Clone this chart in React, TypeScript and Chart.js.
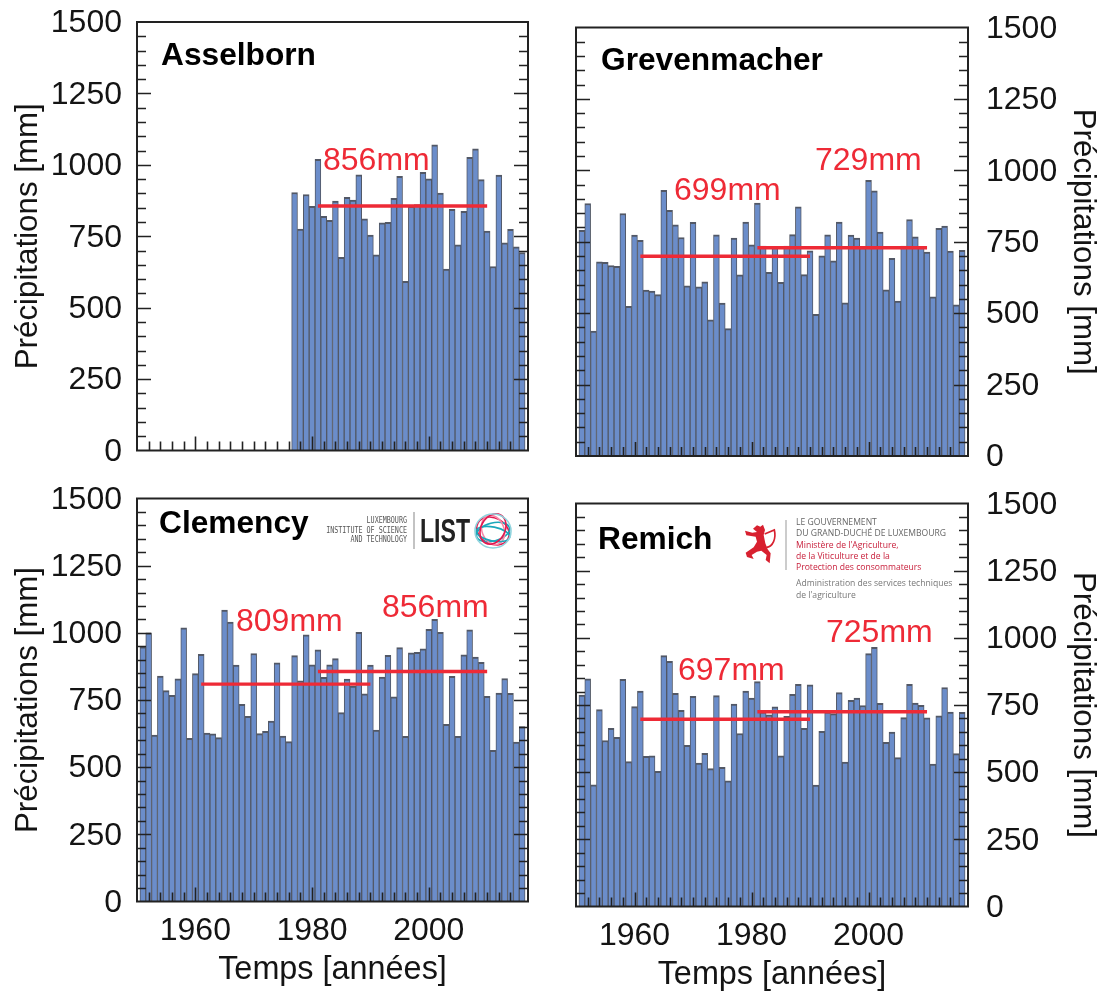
import React, { useEffect, useRef } from "react";
import { Chart, registerables } from "chart.js";

Chart.register(...registerables);

const FONT = "'Liberation Sans', Arial, sans-serif";
const BAR_FILL = "#6b8dca";
const BAR_EDGE = "#525866";
const RED = "#ee2a36";
const INK = "#141414";

const yearTicks = [1960, 1980, 2000];
const valueTicks = [0, 250, 500, 750, 1000, 1250, 1500];

const asselbornStart = 1977;
const asselbornValues = [903, 775, 896, 855, 1019, 820, 806, 873, 676, 886, 877, 965, 811, 754, 685, 797, 799, 883, 960, 592, 855, 861, 974, 951, 1070, 901, 635, 844, 720, 837, 1026, 1056, 948, 768, 644, 964, 727, 774, 713, 693];
const grevenmacherStart = 1951;
const grevenmacherValues = [790, 884, 437, 680, 678, 667, 664, 849, 524, 773, 755, 581, 577, 565, 930, 860, 809, 765, 596, 818, 592, 610, 477, 774, 535, 446, 763, 634, 819, 739, 885, 735, 643, 730, 608, 735, 775, 872, 635, 718, 496, 701, 774, 683, 819, 536, 773, 763, 730, 965, 928, 784, 582, 692, 542, 735, 828, 767, 734, 714, 557, 797, 805, 717, 529, 720];
const clemencyStart = 1951;
const clemencyValues = [948, 1000, 619, 839, 785, 767, 829, 1019, 607, 848, 920, 627, 624, 610, 1085, 1040, 880, 734, 689, 923, 625, 633, 672, 888, 616, 595, 915, 821, 993, 881, 937, 834, 881, 904, 703, 828, 802, 1002, 773, 880, 638, 835, 916, 762, 945, 615, 926, 927, 940, 1013, 1050, 1002, 659, 838, 615, 918, 1011, 910, 890, 764, 563, 776, 830, 775, 593, 651];
const remichStart = 1951;
const remichValues = [787, 847, 453, 733, 618, 663, 630, 846, 539, 744, 802, 559, 561, 503, 934, 913, 793, 730, 600, 782, 534, 570, 513, 785, 518, 468, 753, 644, 802, 776, 837, 725, 713, 743, 561, 708, 790, 827, 663, 825, 452, 652, 725, 718, 796, 538, 767, 776, 748, 941, 965, 756, 611, 649, 554, 703, 827, 757, 749, 702, 530, 710, 815, 724, 569, 723];

const asselbornMeans = [{ from: 1981, to: 2010, value: 856 }];
const grevenmacherMeans = [{ from: 1961, to: 1990, value: 699 }, { from: 1981, to: 2010, value: 729 }];
const clemencyMeans = [{ from: 1961, to: 1990, value: 809 }, { from: 1981, to: 2010, value: 856 }];
const remichMeans = [{ from: 1961, to: 1990, value: 697 }, { from: 1981, to: 2010, value: 725 }];

const panels = [
  { name: "Asselborn", start: asselbornStart, values: asselbornValues, means: asselbornMeans, box: [137, 528, 22, 450.5], side: "left", bottomAxis: false, nameAt: [161, 65], meanLabels: [[323, 170]], logo: "" },
  { name: "Grevenmacher", start: grevenmacherStart, values: grevenmacherValues, means: grevenmacherMeans, box: [576, 968, 27.5, 456], side: "right", bottomAxis: false, nameAt: [601, 70], meanLabels: [[674, 200], [815, 170]], logo: "" },
  { name: "Clemency", start: clemencyStart, values: clemencyValues, means: clemencyMeans, box: [137, 528, 498.5, 901.5], side: "left", bottomAxis: true, nameAt: [159, 533], meanLabels: [[236, 631], [382, 617]], logo: "list" },
  { name: "Remich", start: remichStart, values: remichValues, means: remichMeans, box: [576, 968, 503.5, 906.5], side: "right", bottomAxis: true, nameAt: [598, 549], meanLabels: [[678, 680], [826, 642]], logo: "gov" },
];

function drawListLogo(ctx: CanvasRenderingContext2D) {
  ctx.save();
  ctx.textAlign = "right";
  ctx.textBaseline = "middle";
  ctx.fillStyle = "#555";
  const small: [string, number][] = [["LUXEMBOURG", 521], ["INSTITUTE OF SCIENCE", 531], ["AND TECHNOLOGY", 540]];
  small.forEach(([s, yy]) => {
    ctx.save();
    ctx.translate(407, yy);
    ctx.scale(0.82, 1);
    ctx.font = "8.2px 'DejaVu Sans Mono', monospace";
    ctx.fillText(s, 0, 0);
    ctx.restore();
  });
  ctx.fillStyle = "#888";
  ctx.fillRect(413.5, 512, 1, 37);
  ctx.save();
  ctx.translate(420, 542);
  ctx.scale(0.68, 1);
  ctx.textAlign = "left";
  ctx.textBaseline = "alphabetic";
  ctx.fillStyle = "#222";
  ctx.font = `bold 34px ${FONT}`;
  ctx.fillText("LIST", 0, 0);
  ctx.restore();
  const rings: [number, number, number, number, string][] = [
    [17, 13, 0.5, 0, "#e2194f"],
    [17, 9, -0.25, 1, "#1aa7bb"],
    [15, 11, 1.2, -1, "#f58aa8"],
    [17, 7, 0.2, 3, "#1aa7bb"],
    [12, 16, 0.5, -2, "#e2194f"],
    [18, 17, 0, 0, "#8fd3dd"],
  ];
  ctx.lineWidth = 1.6;
  rings.forEach(([rx, ry, rot, dy, col]) => {
    ctx.beginPath();
    ctx.strokeStyle = col;
    ctx.ellipse(493, 531 + dy, rx, ry, rot, 0, Math.PI * 2);
    ctx.stroke();
  });
  ctx.restore();
}

function drawGovLogo(ctx: CanvasRenderingContext2D) {
  ctx.save();
  ctx.translate(733, 510);
  ctx.scale(1 / 3, 1 / 3);
  const pts = [[72, 46], [82, 50], [90, 44], [96, 60], [92, 75], [97, 100], [104, 118], [113, 130], [110, 160], [98, 150], [101, 135], [85, 122], [72, 125], [56, 135], [62, 147], [42, 141], [38, 128], [62, 112], [72, 95], [68, 80], [40, 76], [36, 62], [58, 68], [72, 66], [60, 56]];
  ctx.fillStyle = "#d8202f";
  ctx.beginPath();
  pts.forEach(([x, y], i) => (i ? ctx.lineTo(x, y) : ctx.moveTo(x, y)));
  ctx.closePath();
  ctx.fill();
  ctx.strokeStyle = "#d8202f";
  ctx.lineWidth = 5;
  ctx.beginPath();
  ctx.moveTo(95, 72);
  ctx.lineTo(124, 60);
  ctx.bezierCurveTo(130, 85, 120, 110, 100, 112);
  ctx.stroke();
  ctx.restore();
  ctx.save();
  ctx.fillStyle = "#999";
  ctx.fillRect(785.5, 520, 1, 50);
  ctx.textAlign = "left";
  ctx.textBaseline = "middle";
  ctx.font = "8.6px 'Open Sans', sans-serif";
  ctx.fillStyle = "#666";
  ctx.fillText("LE GOUVERNEMENT", 796, 522.5);
  ctx.fillText("DU GRAND-DUCHÉ DE LUXEMBOURG", 796, 534);
  ctx.fillStyle = "#c8203c";
  ctx.fillText("Ministère de l'Agriculture,", 796, 545.5);
  ctx.fillText("de la Viticulture et de la", 796, 557);
  ctx.fillText("Protection des consommateurs", 796, 568);
  ctx.fillStyle = "#777";
  ctx.fillText("Administration des services techniques", 796, 584);
  ctx.fillText("de l'agriculture", 796, 595.5);
  ctx.restore();
}

const framePlugin = {
  id: "frame",
  afterDatasetsDraw(chart: any) {
    const { ctx, chartArea: a, scales } = chart;
    const { x, y } = scales;
    ctx.save();
    ctx.strokeStyle = "#222";
    ctx.lineWidth = 1.6;
    y.ticks.forEach((t: any) => {
      if (t.value === 0 || t.value === 1500) return;
      const len = t.value % 250 === 0 ? 14 : 9;
      const p = Math.round(y.getPixelForValue(t.value)) + 0.5;
      ctx.beginPath();
      ctx.moveTo(a.left, p);
      ctx.lineTo(a.left + len, p);
      ctx.moveTo(a.right, p);
      ctx.lineTo(a.right - len, p);
      ctx.stroke();
    });
    x.ticks.forEach((t: any) => {
      if (t.value % 2 !== 0 || t.value === 1950) return;
      const len = t.value % 20 === 0 ? 14 : 9;
      const p = Math.round(x.getPixelForValue(t.value)) + 0.5;
      ctx.beginPath();
      ctx.moveTo(p, a.bottom);
      ctx.lineTo(p, a.bottom - len);
      ctx.stroke();
    });
    ctx.lineWidth = 2;
    ctx.strokeRect(a.left, a.top, a.right - a.left, a.bottom - a.top);
    ctx.restore();
  },
  afterDraw(chart: any) {
    const opts = chart.options.plugins.frame;
    const { ctx } = chart;
    ctx.save();
    ctx.textAlign = "left";
    ctx.textBaseline = "alphabetic";
    ctx.fillStyle = "#000";
    ctx.font = `bold 31.7px ${FONT}`;
    ctx.fillText(opts.name, opts.nameAt[0], opts.nameAt[1]);
    ctx.fillStyle = RED;
    ctx.font = `32px ${FONT}`;
    opts.means.forEach((m: any, i: number) => {
      ctx.fillText(`${m.value}mm`, opts.meanLabels[i][0], opts.meanLabels[i][1]);
    });
    ctx.restore();
    if (opts.logo === "list") drawListLogo(ctx);
    if (opts.logo === "gov") drawGovLogo(ctx);
  },
};

function makeChart(canvas: HTMLCanvasElement, p: any) {
  const [left, right, top, bottom] = p.box;
  const W = 1099;
  const H = 994;
  const isLeft = p.side === "left";
  const xHeight = 88;
  const yWidth = isLeft ? left : W - right;
  return new Chart(canvas, {
    type: "bar",
    data: {
      datasets: [
        {
          type: "bar",
          order: 2,
          data: p.values.map((v: number, i: number) => ({ x: p.start + i, y: v })),
          backgroundColor: BAR_FILL,
          borderColor: BAR_EDGE,
          borderWidth: { top: 2, left: 1, right: 1, bottom: 0 },
          borderSkipped: false,
          barPercentage: 1,
          categoryPercentage: 1,
        },
        ...p.means.map((m: any) => ({
          type: "line",
          order: 1,
          data: [{ x: m.from, y: m.value }, { x: m.to, y: m.value }],
          borderColor: RED,
          borderWidth: 3.4,
          pointRadius: 0,
          fill: false,
        })),
      ],
    } as any,
    options: {
      responsive: false,
      animation: false,
      layout: {
        autoPadding: false,
        padding: {
          left: isLeft ? 0 : left,
          right: isLeft ? W - right : 0,
          top,
          bottom: H - bottom - xHeight,
        },
      },
      plugins: {
        legend: { display: false },
        title: { display: false },
        tooltip: { enabled: false },
        frame: p,
      },
      scales: {
        x: {
          type: "linear",
          position: "bottom",
          min: 1950,
          max: 2017,
          offset: false,
          grid: { display: false, drawTicks: false },
          border: { display: false },
          afterFit: (s: any) => { s.height = xHeight; },
          afterBuildTicks: (s: any) => { s.ticks = s.ticks.filter((t: any) => t.value % 2 === 0); },
          ticks: {
            display: true,
            stepSize: 2,
            autoSkip: false,
            maxRotation: 0,
            padding: 10,
            color: INK,
            font: { family: FONT, size: 32 },
            callback: (v: any) => (p.bottomAxis && yearTicks.includes(v) ? String(v) : ""),
          },
          title: {
            display: p.bottomAxis,
            text: "Temps [années]",
            color: INK,
            font: { family: FONT, size: 32.4 },
            padding: 0,
          },
        },
        y: {
          type: "linear",
          position: p.side,
          min: 0,
          max: 1500,
          grid: {
            display: true,
            drawOnChartArea: false,
            drawTicks: true,
            color: "transparent",
            tickLength: isLeft ? 15 : 18,
          },
          border: { display: false },
          afterFit: (s: any) => { s.width = yWidth; },
          ticks: {
            stepSize: 50,
            autoSkip: false,
            padding: 0,
            labelOffset: 1.5,
            color: INK,
            font: { family: FONT, size: 32 },
            callback: (v: any) => (valueTicks.includes(v) ? String(v) : ""),
          },
          title: {
            display: true,
            text: "Précipitations [mm]",
            color: INK,
            font: { family: FONT, size: 31.3 },
            padding: { top: isLeft ? 10 : -2, bottom: 0 },
          },
        },
      },
    },
    plugins: [framePlugin],
  } as any);
}

export default function App() {
  const refs = useRef<(HTMLCanvasElement | null)[]>([]);
  useEffect(() => {
    document.body.style.margin = "0";
    document.body.style.background = "#fff";
    const charts = panels.map((p, i) => makeChart(refs.current[i]!, p));
    return () => charts.forEach((c) => c.destroy());
  }, []);
  return (
    <div style={{ position: "relative", width: 1099, height: 994, overflow: "hidden" }}>
      {panels.map((p, i) => (
        <canvas
          key={p.name}
          ref={(el) => { refs.current[i] = el; }}
          width={1099}
          height={994}
          style={{ position: "absolute", left: 0, top: 0, width: 1099, height: 994, display: "block" }}
        />
      ))}
    </div>
  );
}
